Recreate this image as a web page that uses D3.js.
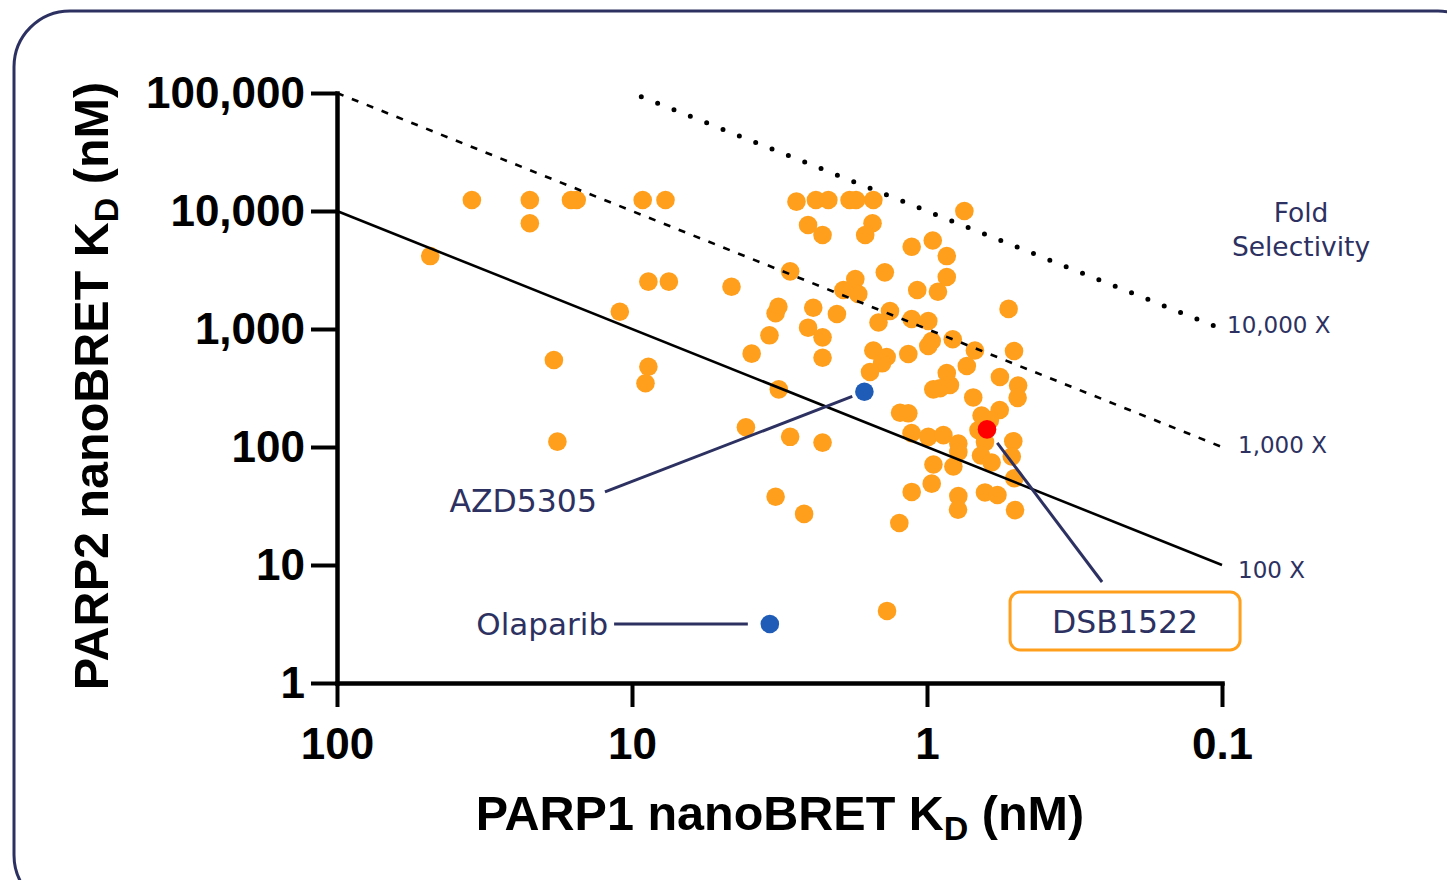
<!DOCTYPE html>
<html><head><meta charset="utf-8">
<script src="https://cdn.jsdelivr.net/npm/d3@7"></script>
<style>
html,body{margin:0;padding:0;background:#fff;}
svg{display:block;}
</style></head>
<body>
<svg id="chart" width="1447" height="880"></svg>
<script>
// ---------------- DATA ----------------
// PARP1 nanoBRET KD (nM) for each compound
const parp1KD = [48.3, 34.9, 22.2, 22.2, 16.1, 15.4, 9.2, 7.7, 11.0, 8.8,
  7.5, 4.6, 18.4, 8.8, 9.0, 17.9, 3.93, 4.11, 3.42, 3.26,
  3.19, 3.18, 2.91, 2.91, 3.26, 2.61, 2.77, 2.38, 2.16, 1.83,
  1.74, 1.52, 2.53, 2.26, 1.53, 1.62, 2.53, 2.43, 2.26, 2.26,
  2.26, 2.02, 1.92, 1.75, 1.71, 1.46, 1.335, 1.39, 1.52, 1.37,
  1.42, 1.56, 1.157, 1.127, 0.956, 0.857, 0.857, 0.918, 1.079, 1.127,
  0.99, 0.964, 0.99, 0.818, 0.688, 0.747, 0.529, 0.507, 0.733, 0.857,
  0.836, 0.903, 0.952, 0.697, 0.566, 0.491, 0.493, 1.234, 1.157, 0.653,
  0.567, 0.612, 0.669, 1.128, 0.99, 0.88, 0.783, 0.783, 0.636, 0.51,
  0.656, 0.604, 0.516, 0.951, 0.814, 0.506, 0.964, 1.127, 0.636, 0.577,
  0.783, 0.785, 0.503, 1.241, 1.366];
// PARP2 nanoBRET KD (nM) for each compound
const parp2KD = [4150, 12400, 12400, 7870, 12400, 12400, 12400, 12400, 1400, 2520,
  2520, 2280, 546, 479, 347, 111, 618, 147, 884, 1360,
  1545, 308, 3080, 122, 37.9, 27.1, 12000, 12400, 12400, 12400,
  12400, 12400, 7610, 6260, 7870, 6260, 1026, 1515, 850, 571,
  109, 1340, 2140, 2650, 1980, 1135, 1420, 3020, 657, 579,
  512, 432, 614, 4980, 5620, 4150, 2760, 2070, 2140, 1215,
  1170, 791, 718, 818, 657, 10000, 1480, 651, 486, 424,
  335, 315, 308, 263, 392, 332, 261, 195, 193, 185,
  206, 169, 139, 131, 122, 126, 107, 90.7, 110, 112,
  84.7, 73.9, 83.1, 71.1, 68.3, 54.3, 48.9, 41.6, 41.2, 39.2,
  38.4, 29.4, 29.2, 22.7, 4.08];

// Highlighted reference compounds
const refNames = ["AZD5305", "Olaparib", "DSB1522"];
const refParp1 = [1.63, 3.41, 0.626];
const refParp2 = [294, 3.16, 141];
// where each callout line ends (label side), in data units
const refLabelParp1 = [12.35, 11.5, 0.255];
const refLabelParp2 = [41.6, 3.16, 7.18];

// Fold-selectivity reference lines
const foldValues = [10000, 1000, 100];
const foldLabels = ["10,000 X", "1,000 X", "100 X"];
const foldStartParp1 = [9.3, 100, 100];
const foldEndParp1 = [0.1, 0.1, 0.1];

// Axis ticks
const xTicks = [100, 10, 1, 0.1];
const yTicks = [1, 10, 100, 1000, 10000, 100000];

// ---------------- DRAW ----------------
const svg = d3.select("#chart");
const navy = "#2c3161";
const orange = "#ff9f1c";
const tickFont = "'Liberation Sans', Arial, sans-serif";
const labelFont = "'DejaVu Sans', sans-serif";

// outer rounded frame
svg.append("rect")
  .attr("x", 14).attr("y", 11)
  .attr("width", 1480).attr("height", 900)
  .attr("rx", 56).attr("ry", 56)
  .attr("fill", "none").attr("stroke", navy).attr("stroke-width", 3);

const x = d3.scaleLog().domain([100, 0.1]).range([337, 1222]);
const y = d3.scaleLog().domain([1, 100000]).range([683, 93]);

// points
const pts = parp1KD.map((v, i) => ({p1: v, p2: parp2KD[i]}));
svg.append("g").selectAll("circle").data(pts).join("circle")
  .attr("cx", d => x(d.p1)).attr("cy", d => y(d.p2))
  .attr("r", 9.3).attr("fill", orange);

// fold lines
const foldStyles = [
  {w: 5, dash: "0,17.6", cap: "round"},
  {w: 2.6, dash: "7,9", cap: "butt"},
  {w: 2.6, dash: null, cap: "butt"}
];
foldValues.forEach((k, i) => {
  const s = foldStyles[i];
  svg.append("line")
    .attr("x1", x(foldStartParp1[i])).attr("y1", y(k * foldStartParp1[i]))
    .attr("x2", x(foldEndParp1[i])).attr("y2", y(k * foldEndParp1[i]))
    .attr("stroke", "#000").attr("stroke-width", s.w)
    .attr("stroke-linecap", s.cap)
    .attr("stroke-dasharray", s.dash);
});
const foldLabelDx = [5, 16, 16];
const foldLabelDy = [4, 6, 13];
foldValues.forEach((k, i) => {
  svg.append("text")
    .attr("x", x(foldEndParp1[i]) + foldLabelDx[i])
    .attr("y", y(k * foldEndParp1[i]) + foldLabelDy[i])
    .attr("font-family", labelFont).attr("font-size", 23)
    .attr("fill", navy).text(foldLabels[i]);
});
svg.append("text").attr("x", 1301).attr("y", 222)
  .attr("text-anchor", "middle").attr("font-family", labelFont)
  .attr("font-size", 26.5).attr("fill", navy).text("Fold");
svg.append("text").attr("x", 1301).attr("y", 256)
  .attr("text-anchor", "middle").attr("font-family", labelFont)
  .attr("font-size", 26.5).attr("fill", navy).text("Selectivity");

// callout lines
const refGap = [13, 22, 17];
refNames.forEach((n, i) => {
  const px = x(refParp1[i]), py = y(refParp2[i]);
  const lx = x(refLabelParp1[i]), ly = y(refLabelParp2[i]);
  const len = Math.hypot(lx - px, ly - py);
  const sx = px + (lx - px) / len * refGap[i];
  const sy = py + (ly - py) / len * refGap[i];
  svg.append("line").attr("x1", sx).attr("y1", sy).attr("x2", lx).attr("y2", ly)
    .attr("stroke", navy).attr("stroke-width", 3);
});

// highlighted points
const refColors = ["#1f5cb8", "#1f5cb8", "#ff0000"];
refNames.forEach((n, i) => {
  svg.append("circle").attr("cx", x(refParp1[i])).attr("cy", y(refParp2[i]))
    .attr("r", 9.3).attr("fill", refColors[i]);
});

// callout labels
{
  // AZD5305
  const lx = x(refLabelParp1[0]), ly = y(refLabelParp2[0]);
  svg.append("text").attr("x", lx - 8).attr("y", ly + 20)
    .attr("text-anchor", "end").attr("font-family", labelFont)
    .attr("font-size", 31.5).attr("fill", navy).text(refNames[0]);
  // Olaparib
  const ox = x(refLabelParp1[1]), oy = y(refLabelParp2[1]);
  svg.append("text").attr("x", ox - 6).attr("y", oy + 11)
    .attr("text-anchor", "end").attr("font-family", labelFont)
    .attr("font-size", 31).attr("fill", navy).text(refNames[1]);
  // DSB1522 boxed
  const dx = x(refLabelParp1[2]), dy = y(refLabelParp2[2]);
  svg.append("rect").attr("x", dx - 92).attr("y", dy + 10)
    .attr("width", 230).attr("height", 58).attr("rx", 10)
    .attr("fill", "#fff").attr("stroke", orange).attr("stroke-width", 3);
  svg.append("text").attr("x", dx + 23).attr("y", dy + 51)
    .attr("text-anchor", "middle").attr("font-family", labelFont)
    .attr("font-size", 31.5).attr("fill", navy).text(refNames[2]);
}

// axes
const yAxis = d3.axisLeft(y).tickValues(yTicks)
  .tickFormat(d3.format(",")).tickSize(26).tickSizeOuter(0).tickPadding(6);
const gy = svg.append("g").attr("transform", "translate(337,0)").call(yAxis);
const xAxis = d3.axisBottom(x).tickValues(xTicks)
  .tickFormat(d => d >= 1 ? d3.format("d")(d) : String(d))
  .tickSize(24).tickSizeOuter(0).tickPadding(21);
const gx = svg.append("g").attr("transform", "translate(0,683)").call(xAxis);
[gx, gy].forEach(g => {
  g.attr("font-family", tickFont).attr("font-size", 44).attr("font-weight", "bold");
  g.select(".domain").attr("stroke", "#000").attr("stroke-width", 4.5)
    .attr("stroke-linecap", "square");
  g.selectAll(".tick line").attr("stroke", "#000").attr("stroke-width", 4);
  g.selectAll(".tick text").attr("fill", "#000");
});

// axis titles
const xt = svg.append("text").attr("x", 780).attr("y", 830)
  .attr("text-anchor", "middle").attr("font-family", tickFont)
  .attr("font-weight", "bold").attr("font-size", 48.5).attr("fill", "#000");
xt.append("tspan").text("PARP1 nanoBRET K");
xt.append("tspan").attr("font-size", 34).attr("dy", 10).text("D");
xt.append("tspan").attr("dy", -10).text(" (nM)");

const yt = svg.append("text").attr("transform", "translate(108,386) rotate(-90)")
  .attr("text-anchor", "middle").attr("font-family", tickFont)
  .attr("font-weight", "bold").attr("font-size", 48.5).attr("fill", "#000");
yt.append("tspan").text("PARP2 nanoBRET K");
yt.append("tspan").attr("font-size", 34).attr("dy", 10).text("D");
yt.append("tspan").attr("dy", -10).text(" (nM)");
</script>
</body></html>
